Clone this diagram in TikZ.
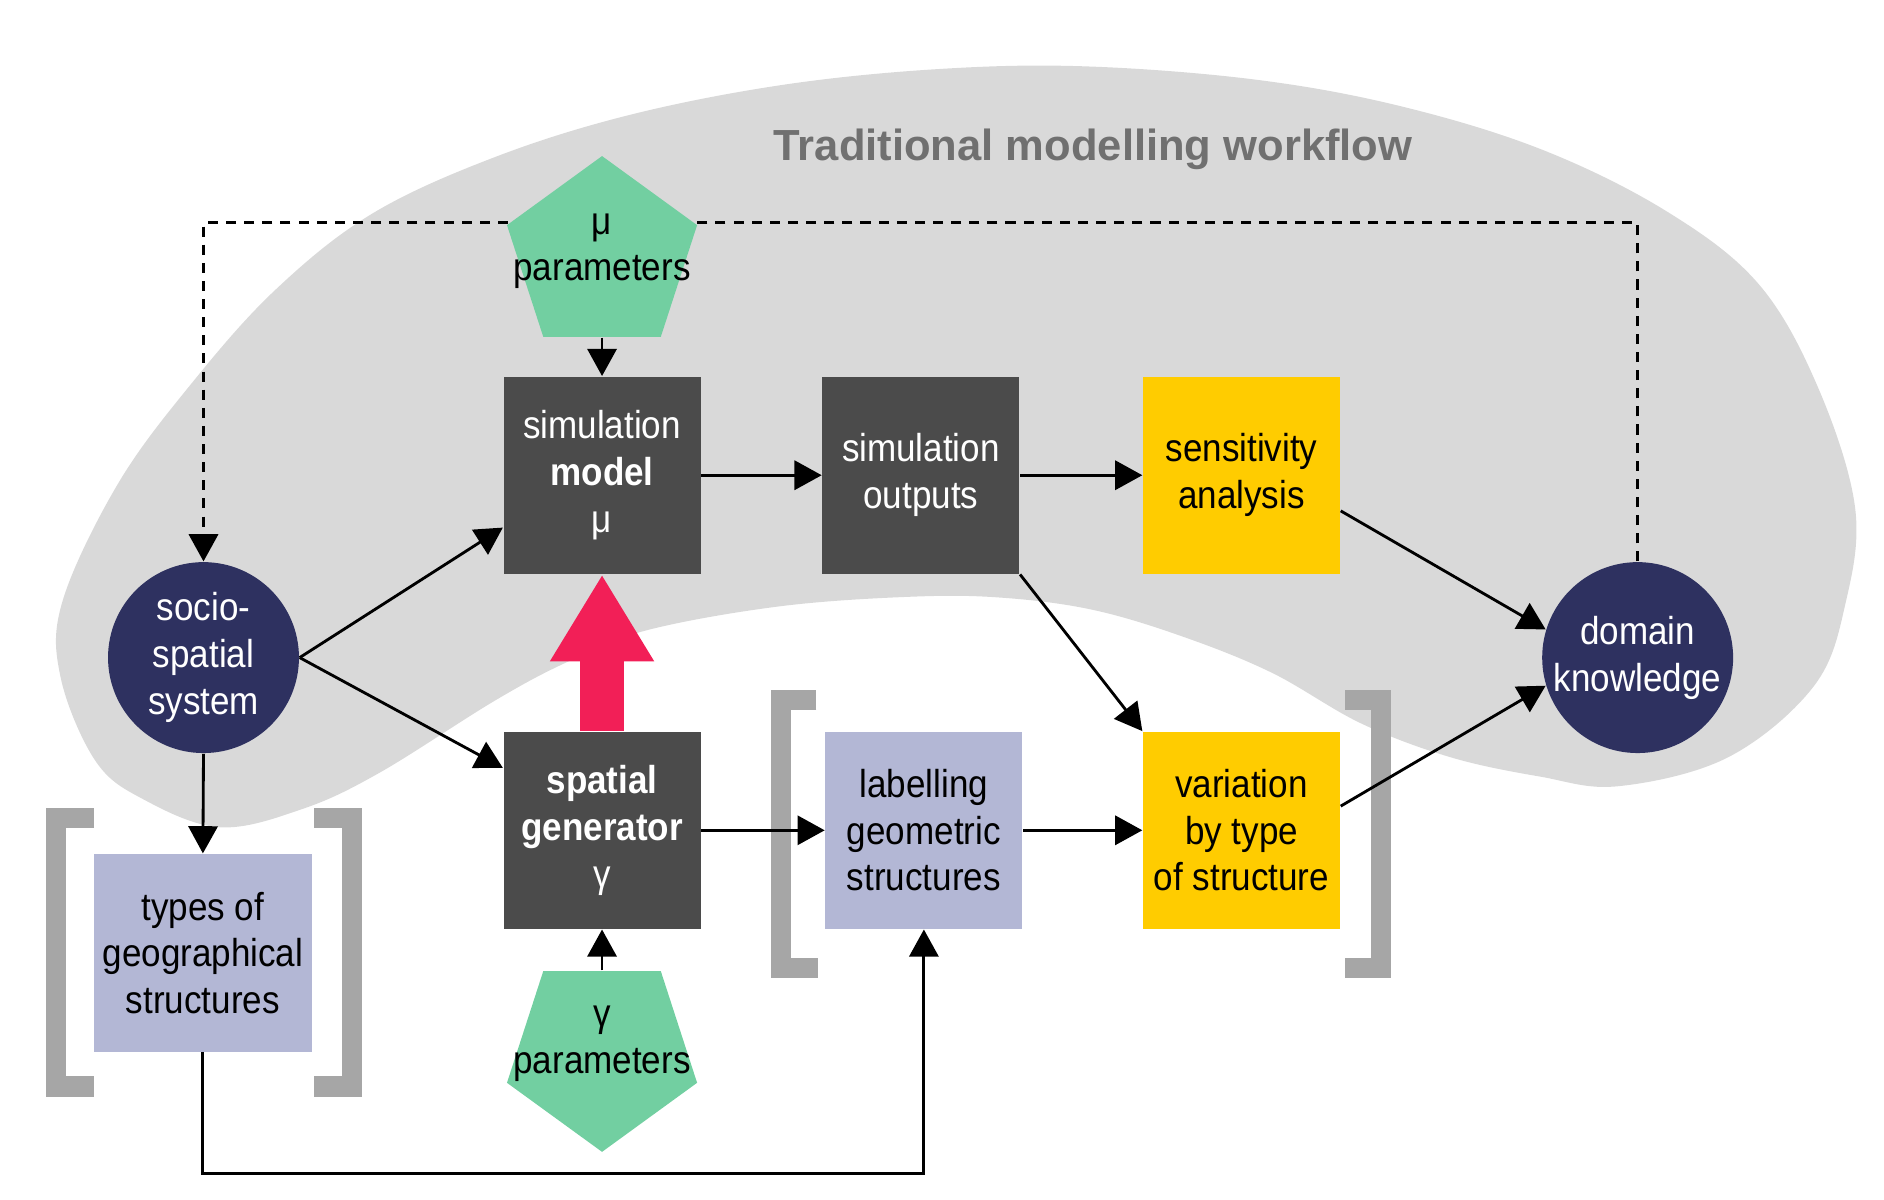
\documentclass[tikz,border=0pt]{standalone}
\usepackage{fontspec}
\setmainfont{Liberation Sans}[FakeStretch=0.9]
\newfontfamily\titlefont{Liberation Sans}
\usetikzlibrary{arrows.meta,shapes.geometric}
\definecolor{blobgray}{HTML}{D9D9D9}
\definecolor{boxdark}{HTML}{4B4B4B}
\definecolor{sensyellow}{HTML}{FFCC00}
\definecolor{lavender}{HTML}{B3B7D5}
\definecolor{navy}{HTML}{2E3160}
\definecolor{paramgreen}{HTML}{72CFA1}
\definecolor{genpink}{HTML}{F21F57}
\definecolor{brackgray}{HTML}{A6A6A6}
\definecolor{titlegray}{HTML}{707070}
\tikzset{
  txt/.style={align=center, inner sep=0pt, font=\fontsize{11}{13.2}\selectfont},
  box/.style={txt, rectangle, minimum width=1.956cm, minimum height=1.956cm},
  darkbox/.style={box, fill=boxdark, text=white},
  yellowbox/.style={box, fill=sensyellow},
  lavbox/.style={box, fill=lavender},
  system/.style={txt, circle, fill=navy, text=white, minimum size=1.896cm},
  param/.style={regular polygon, regular polygon sides=5, fill=paramgreen,
    minimum size=1.985cm, inner sep=0pt},
  flow/.style={line width=0.8pt, -{Triangle[length=0.27cm,width=0.29cm]}},
  brack/.style={brackgray, line width=0.204cm, line cap=butt, line join=miter},
}
\begin{document}
\begin{tikzpicture}[x=0.012cm, y=-0.012cm]
  \useasboundingbox (0,0) rectangle (1560,993.6);
  % grey workflow region
  \fill[blobgray] plot[smooth cycle, tension=0.6] coordinates {
    (182,685) (119,662) (79,630) (50,560) (52,497) (98,400) (159,317)
    (228,240) (308,177) (410,130) (522,95) (650,70) (780,57) (900,55)
    (1040,66) (1160,88) (1277,124) (1380,175) (1456,235) (1505,320)
    (1536,420) (1528,500) (1502,568) (1431,627) (1340,651) (1275,643)
    (1201,627) (1127,599) (1053,557) (979,527) (905,505) (831,495)
    (757,494) (646,502) (535,522) (470,548) (410,580) (314,640) (250,670)};
  \node (title) [font=\titlefont\bfseries\fontsize{12.3}{14}\selectfont,
    text=titlegray] at (905,124) {Traditional modelling workflow};
  % brackets
  \draw[brack] (78,677.5) -- (46.5,677.5) -- (46.5,899.5) -- (78,899.5);
  \draw[brack] (260,677.5) -- (291.5,677.5) -- (291.5,899.5) -- (260,899.5);
  \draw[brack] (676,579.5) -- (646.5,579.5) -- (646.5,801.5) -- (677,801.5);
  \draw[brack] (1114,579.5) -- (1143.5,579.5) -- (1143.5,801.5) -- (1114,801.5);
  % nodes
  \node (socio) [system] at (168.5,544.5) {socio-\\spatial\\system};
  \node (domain) [system] at (1356,544.5) {domain\\knowledge};
  \node (simmodel) [darkbox] at (498.5,393.5) {simulation\\\textbf{model}\\μ};
  \node (outputs) [darkbox] at (762.5,393.5) {simulation\\outputs};
  \node (sens) [yellowbox] at (1028,393.5) {sensitivity\\analysis};
  \node (spatgen) [darkbox] at (498.5,687.5) {\textbf{spatial}\\\textbf{generator}\\γ};
  \node (label) [lavbox] at (765,687.5) {labelling\\geometric\\structures};
  \node (var) [yellowbox] at (1028,687.5) {variation\\by type\\of structure};
  \node (types) [lavbox, minimum width=2.172cm, minimum height=1.962cm]
    at (168,789) {types of\\geographical\\structures};
  % feedback loop
  \coordinate (fbtop) at (0,184.5);
  \draw[flow, dashed, dash pattern=on 0.1cm off 0.08cm]
    (domain.north) -- (domain.north |- fbtop) -- (socio.north |- fbtop) -- (socio.north);
  \node (mupar) [param] at (498.5,212) {};
  \node (mutext) [txt] at (498.5,208) {μ\\parameters};
  \node (gampar) [param, shape border rotate=180] at (498.5,871) {};
  \node (gamtext) [txt] at (498.5,864) {γ\\parameters};
  % connectors
  \draw[genpink, line width=0.444cm, -{Triangle[length=0.864cm,width=0.972cm]}]
    (spatgen.north) -- (simmodel.south);
  \draw[flow] (mupar.south) -- (simmodel.north);
  \draw[flow] (gampar.north) -- (spatgen.south);
  \draw[flow] (socio.east) -- ([yshift=-0.52cm]simmodel.west);
  \draw[flow] (socio.east) -- ([yshift=0.62cm]spatgen.west);
  \draw[flow] (socio.south) -- (types.north);
  \draw[flow] (simmodel) -- (outputs);
  \draw[flow] (outputs) -- (sens);
  \draw[flow] (outputs.south east) -- (var.north west);
  \draw[flow] ([yshift=-0.354cm]sens.east) -- (domain.163);
  \draw[flow] ([yshift=0.24cm]var.east) -- (domain.197);
  \draw[flow] (spatgen) -- (label);
  \draw[flow] (label) -- (var);
  \coordinate (loopbot) at (0,972);
  \draw[flow] (types.south) -- (types.south |- loopbot) -| (label.south);
\end{tikzpicture}
\end{document}
